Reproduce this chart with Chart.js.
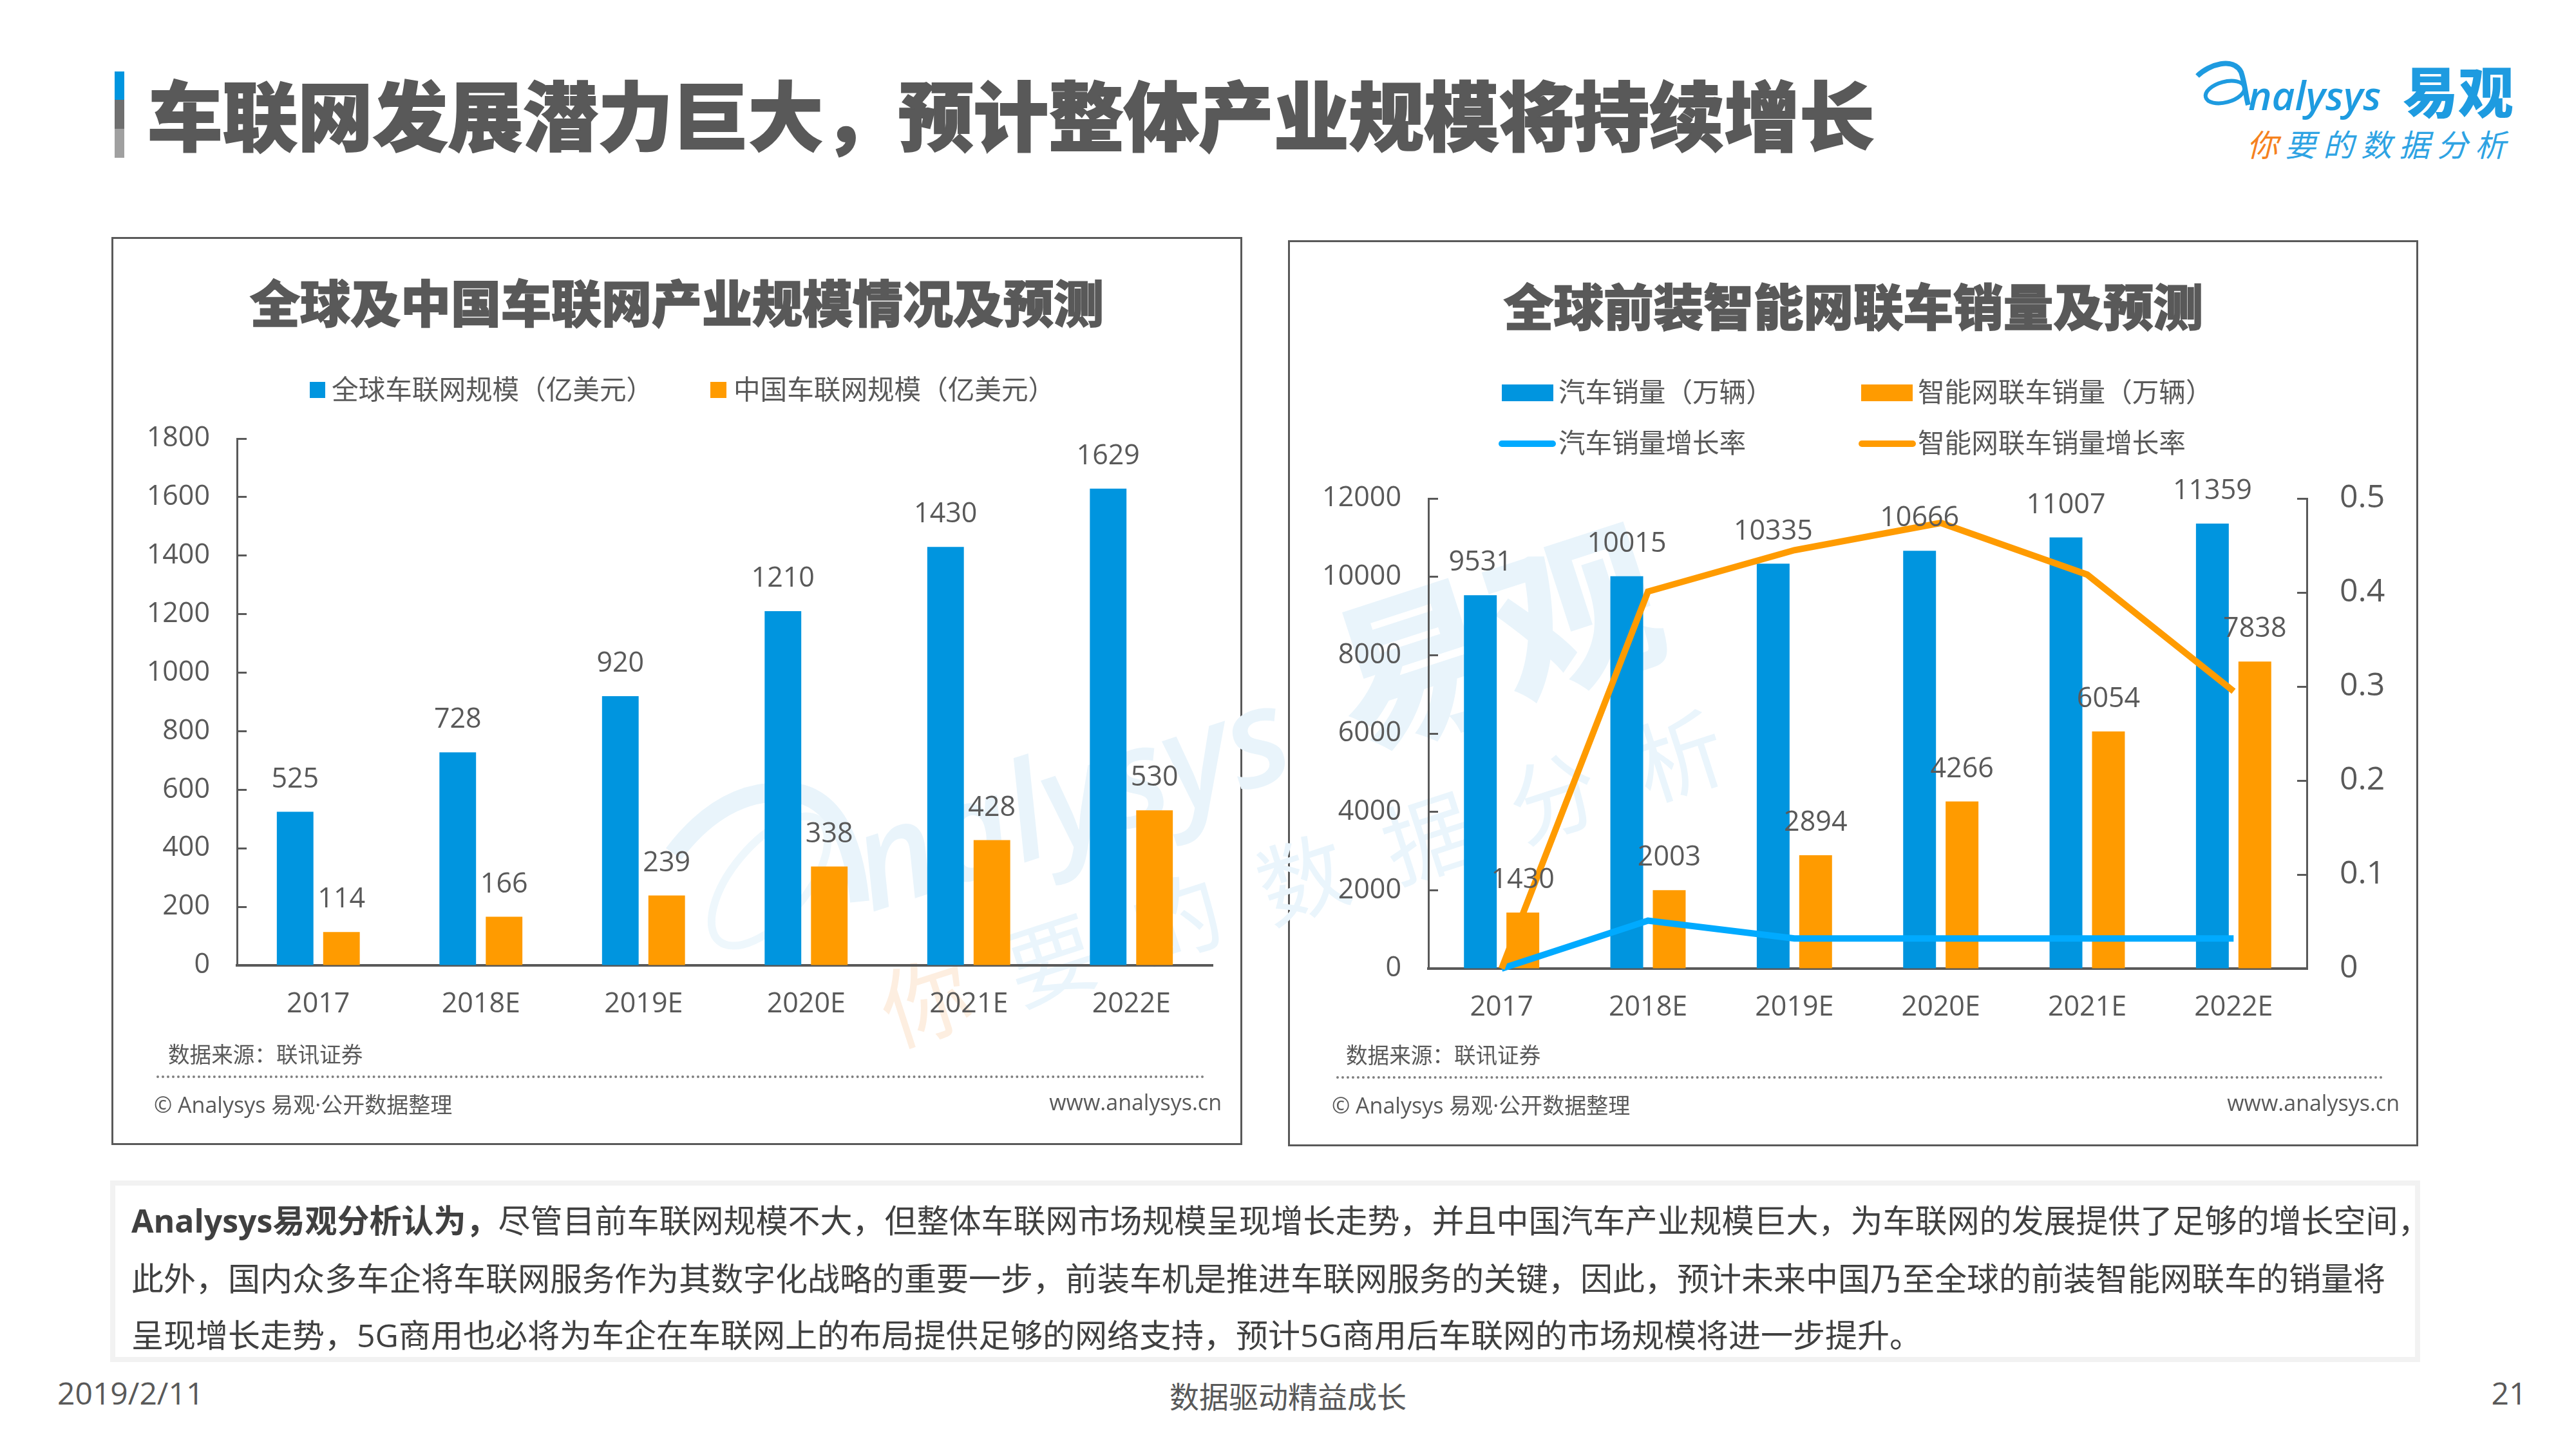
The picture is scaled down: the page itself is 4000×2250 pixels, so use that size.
<!DOCTYPE html>
<html lang="zh-CN">
<head>
<meta charset="utf-8">
<script src="https://cdn.jsdelivr.net/npm/chart.js@4"></script>
<style>
html,body{margin:0;padding:0;background:#fff;}
#page{position:relative;width:4000px;height:2250px;overflow:hidden;background:#fff;font-family:"Open Sans","Noto Sans CJK SC",sans-serif;color:#595959;}
.t{position:absolute;white-space:nowrap;line-height:1;}
.c{transform:translate(-50%,-50%);}
.m{transform:translateY(-50%);}
.r{transform:translate(-100%,-50%);}
.frame{position:absolute;box-sizing:border-box;border:3px solid #595959;background:#fff;}
.dots{position:absolute;border-top:4px dotted #7f7f7f;height:0;}
.sw{position:absolute;}
canvas{position:absolute;}
.wm{position:absolute;white-space:nowrap;line-height:1;transform:translate(-50%,-50%) rotate(-18deg);}
</style>
</head>
<body>
<div id="page">
  <!-- title accent -->
  <div class="sw" style="left:178px;top:111px;width:15px;height:44px;background:#0095df"></div>
  <div class="sw" style="left:178px;top:155px;width:15px;height:45px;background:#6f6f6f"></div>
  <div class="sw" style="left:178px;top:200px;width:15px;height:45px;background:#a0a0a0"></div>
  <div class="t m" id="mainTitle" style="left:229px;top:175px;font-size:116.6px;font-weight:900;font-family:'Noto Sans CJK SC';color:#595959;-webkit-text-stroke:2px #595959"></div>

  <!-- logo -->
  <svg class="sw" style="left:3400px;top:85px" width="110" height="95" viewBox="3400 85 110 95">
    <path d="M3412 118 C3430 100 3468 88 3480 112 C3486 130 3487 148 3491 163" fill="none" stroke="#1e9be0" stroke-width="8"/>
    <ellipse cx="3455" cy="143" rx="31" ry="16" transform="rotate(-15 3455 143)" fill="none" stroke="#1e9be0" stroke-width="6"/>
  </svg>
  <div class="t" style="left:3491px;top:116px;font-size:62px;font-style:italic;font-family:'Open Sans';color:#1e9be0;font-weight:600">nalysys</div>
  <div class="t" style="left:3731px;top:96px;font-size:86px;font-weight:900;font-family:'Noto Sans CJK SC';color:#1e9be0">易观</div>
  <div class="t" style="left:3489px;top:198px;font-size:48px;font-family:'Noto Sans CJK SC';letter-spacing:11px;color:#2ea3e3;font-style:italic;"><span style="color:#f5821f">你</span>要的数据分析</div>

  <!-- panels -->
  <div class="frame" style="left:173px;top:368px;width:1756px;height:1410px"></div>
  <div class="frame" style="left:2000px;top:373px;width:1755px;height:1407px"></div>

  <!-- watermark -->
  <svg class="sw" style="left:1020px;top:1180px" width="360" height="300" viewBox="1020 1180 360 300">
    <ellipse cx="1195" cy="1368" rx="122" ry="58" transform="rotate(-50 1195 1368)" fill="none" stroke="#eef7fc" stroke-width="12"/>
    <path d="M1046 1326 Q1130 1215 1240 1232 Q1320 1250 1335 1400" fill="none" stroke="#e9f4fb" stroke-width="30"/>
  </svg>
  <div class="wm" style="left:1660px;top:1232px;font-size:210px;font-style:italic;font-weight:600;font-family:'Open Sans';color:#e9f4fb">nalysys</div>
  <div class="wm" style="left:2318px;top:978px;font-size:258px;font-weight:900;font-family:'Noto Sans CJK SC';color:#e9f4fb">易观</div>
  <div class="wm" style="left:2020px;top:1357px;font-size:138px;letter-spacing:67px;font-family:'Noto Sans CJK SC';color:#eaf5fc;text-indent:67px"><span style="color:#fdeee0">你</span>要的数据分析</div>

  <canvas id="chartL" width="1756" height="1405" style="left:173px;top:370px;width:1756px;height:1405px"></canvas>
  <canvas id="chartR" width="1755" height="1405" style="left:2000px;top:375px;width:1755px;height:1405px"></canvas>

  <!-- left chart text -->
  <div class="t c" id="titleL" style="left:1051px;top:467px;font-size:78px;font-weight:900;font-family:'Noto Sans CJK SC';-webkit-text-stroke:1.5px #595959"></div>
  <div id="legendL"></div>
  <div class="t m" style="left:261px;top:1638px;font-size:33.6px">数据来源：联讯证券</div>
  <div class="dots" style="left:243px;top:1670px;width:1628px"></div>
  <div class="t m" style="left:239px;top:1715px;font-size:34px">© Analysys 易观·公开数据整理</div>
  <div class="t r" style="left:1897px;top:1711px;font-size:34px">www.analysys.cn</div>

  <!-- right chart text -->
  <div class="t c" id="titleR" style="left:2878px;top:473px;font-size:77.6px;font-weight:900;font-family:'Noto Sans CJK SC';-webkit-text-stroke:1.5px #595959"></div>
  <div id="legendR"></div>
  <div class="t m" style="left:2090px;top:1639px;font-size:33.6px">数据来源：联讯证券</div>
  <div class="dots" style="left:2075px;top:1671px;width:1626px"></div>
  <div class="t m" style="left:2068px;top:1716px;font-size:34px">© Analysys 易观·公开数据整理</div>
  <div class="t r" style="left:3726px;top:1712px;font-size:34px">www.analysys.cn</div>

  <!-- analysis box -->
  <div class="sw" style="box-sizing:border-box;left:171px;top:1833px;width:3587px;height:282px;border:8px solid #f2f2f2;background:#fff"></div>
  <div class="t m" id="line1" style="left:204px;top:1895px;font-size:50px;color:#404040"></div>
  <div class="t m" id="line2" style="left:204px;top:1985px;font-size:50px;color:#404040"></div>
  <div class="t m" id="line3" style="left:204px;top:2073px;font-size:50px;color:#404040"></div>

  <!-- footer -->
  <div class="t m" style="left:89px;top:2163px;font-size:48px;color:#595959">2019/2/11</div>
  <div class="t c" style="left:2000px;top:2168px;font-size:46px;color:#595959">数据驱动精益成长</div>
  <div class="t c" style="left:3896px;top:2163px;font-size:48px;color:#595959">21</div>
</div>
<script>
const mainTitleText = "车联网发展潜力巨大，预计整体产业规模将持续增长";
const leftTitle = "全球及中国车联网产业规模情况及预测";
const rightTitle = "全球前装智能网联车销量及预测";
const boldLead = "Analysys易观分析认为，";
const bodyLines = [
  "尽管目前车联网规模不大，但整体车联网市场规模呈现增长走势，并且中国汽车产业规模巨大，为车联网的发展提供了足够的增长空间，",
  "此外，国内众多车企将车联网服务作为其数字化战略的重要一步，前装车机是推进车联网服务的关键，因此，预计未来中国乃至全球的前装智能网联车的销量将",
  "呈现增长走势，5G商用也必将为车企在车联网上的布局提供足够的网络支持，预计5G商用后车联网的市场规模将进一步提升。"
];

const years = ["2017","2018E","2019E","2020E","2021E","2022E"];
const globalNames = "全球车联网规模（亿美元）";
const chinaNames = "中国车联网规模（亿美元）";
const globalIov = [525,728,920,1210,1430,1629];
const chinaIov = [114,166,239,338,428,530];

const carSalesName = "汽车销量（万辆）";
const smartSalesName = "智能网联车销量（万辆）";
const carGrowthName = "汽车销量增长率";
const smartGrowthName = "智能网联车销量增长率";
const carSales = [9531,10015,10335,10666,11007,11359];
const smartSales = [1430,2003,2894,4266,6054,7838];
const carGrowth = [0,0.051,0.032,0.032,0.032,0.032];
const smartGrowth = [0,0.401,0.445,0.474,0.419,0.295];

const BLUE = "#0095df", ORANGE = "#ff9b00", LINEBLUE = "#00aaff", LINEORANGE = "#ff9b00", GREY = "#595959";
const FONT = '"Open Sans","Noto Sans CJK SC",sans-serif';

document.getElementById("mainTitle").textContent = mainTitleText;
document.getElementById("titleL").textContent = leftTitle;
document.getElementById("titleR").textContent = rightTitle;
document.getElementById("line1").innerHTML = '<b style="font-family:\'Open Sans\',\'Noto Sans CJK SC\';font-weight:700">'+boldLead+'</b>'+bodyLines[0];
document.getElementById("line2").textContent = bodyLines[1];
document.getElementById("line3").textContent = bodyLines[2];

function legendItem(host, text, kind, color, bx, bw, by, bh, tx, ty, fs){
  const page = document.getElementById(host);
  const m = document.createElement("div");
  m.className = "sw";
  m.style.cssText = "left:"+bx+"px;top:"+by+"px;width:"+bw+"px;height:"+bh+"px;background:"+color+(kind==="line"?";border-radius:5px":"");
  page.appendChild(m);
  const t = document.createElement("div");
  t.className = "t m";
  t.style.cssText = "left:"+tx+"px;top:"+ty+"px;font-size:"+fs+"px;color:#595959";
  t.textContent = text;
  page.appendChild(t);
}
legendItem("legendL", globalNames, "box", BLUE, 481,24,593,25, 515,605,41.6);
legendItem("legendL", chinaNames, "box", ORANGE, 1103,25,593,25, 1139,605,41.6);
legendItem("legendR", carSalesName, "box", BLUE, 2332,80,597,26, 2420,609,41.6);
legendItem("legendR", smartSalesName, "box", ORANGE, 2890,80,597,26, 2978,609,41.6);
legendItem("legendR", carGrowthName, "line", LINEBLUE, 2327,89,684,10, 2420,688,41.6);
legendItem("legendR", smartGrowthName, "line", LINEORANGE, 2886,89,684,10, 2978,688,41.6);

const barLabels = {
  id: "barLabels",
  afterDatasetsDraw(chart){
    const ctx = chart.ctx;
    ctx.save();
    ctx.font = "43px " + FONT;
    ctx.fillStyle = GREY;
    ctx.textAlign = "center";
    ctx.textBaseline = "middle";
    chart.data.datasets.forEach((ds,i)=>{
      if(ds.type === "line") return;
      chart.getDatasetMeta(i).data.forEach((el,j)=>{
        ctx.fillText(String(ds.data[j]), el.x, el.y - 50);
      });
    });
    ctx.restore();
  }
};

function yAxis(max, step, width, position, pad, fs, fmt){
  return {
    type:"linear", position, min:0, max,
    afterFit(s){ s.width = width; },
    border:{display:true,color:GREY,width:3},
    grid:{drawOnChartArea:false,drawTicks:true,tickLength:-15,tickColor:GREY,tickWidth:3},
    ticks:{stepSize:step,padding:pad,color:GREY,font:{family:FONT,size:fs},callback:fmt||(v=>String(v))}
  };
}
function xAxis(pad){
  return {
    type:"category",
    afterFit(s){ s.height = 100; },
    border:{display:true,color:GREY,width:4},
    grid:{display:true,drawOnChartArea:false,drawTicks:false},
    ticks:{padding:pad,color:GREY,maxRotation:0,font:{family:FONT,size:43}}
  };
}
const base = {responsive:false,animation:false,devicePixelRatio:1,plugins:{legend:{display:false},title:{display:false},tooltip:{enabled:false}}};

new Chart(document.getElementById("chartL"),{
  type:"bar",
  data:{labels:years,datasets:[
    {label:globalNames,data:globalIov,backgroundColor:BLUE,categoryPercentage:0.57,barPercentage:0.79},
    {label:chinaNames,data:chinaIov,backgroundColor:ORANGE,categoryPercentage:0.57,barPercentage:0.79}
  ]},
  options:{...base,
    layout:{padding:{left:0,top:311,right:46,bottom:176}},
    scales:{x:xAxis(35),y:yAxis(1800,200,195,"left",57,43)}
  },
  plugins:[barLabels]
});

new Chart(document.getElementById("chartR"),{
  data:{labels:years,datasets:[
    {type:"line",label:smartGrowthName,data:smartGrowth,yAxisID:"y1",borderColor:LINEORANGE,borderWidth:10,pointRadius:0,tension:0,fill:false,clip:false,order:0},
    {type:"line",label:carGrowthName,data:carGrowth,yAxisID:"y1",borderColor:LINEBLUE,borderWidth:10,pointRadius:0,tension:0,fill:false,clip:false,order:0},
    {type:"bar",label:carSalesName,data:carSales,yAxisID:"y",backgroundColor:BLUE,categoryPercentage:0.58,barPercentage:0.773,order:1},
    {type:"bar",label:smartSalesName,data:smartSales,yAxisID:"y",backgroundColor:ORANGE,categoryPercentage:0.58,barPercentage:0.773,order:1}
  ]},
  options:{...base,
    layout:{padding:{left:0,top:399,right:0,bottom:176}},
    scales:{x:xAxis(35),
      y:yAxis(12000,2000,218,"left",57,43),
      y1:yAxis(0.5,0.1,173,"right",66,50,v=>String(+v.toFixed(1)))
    }
  },
  plugins:[barLabels]
});
</script>
</body>
</html>
